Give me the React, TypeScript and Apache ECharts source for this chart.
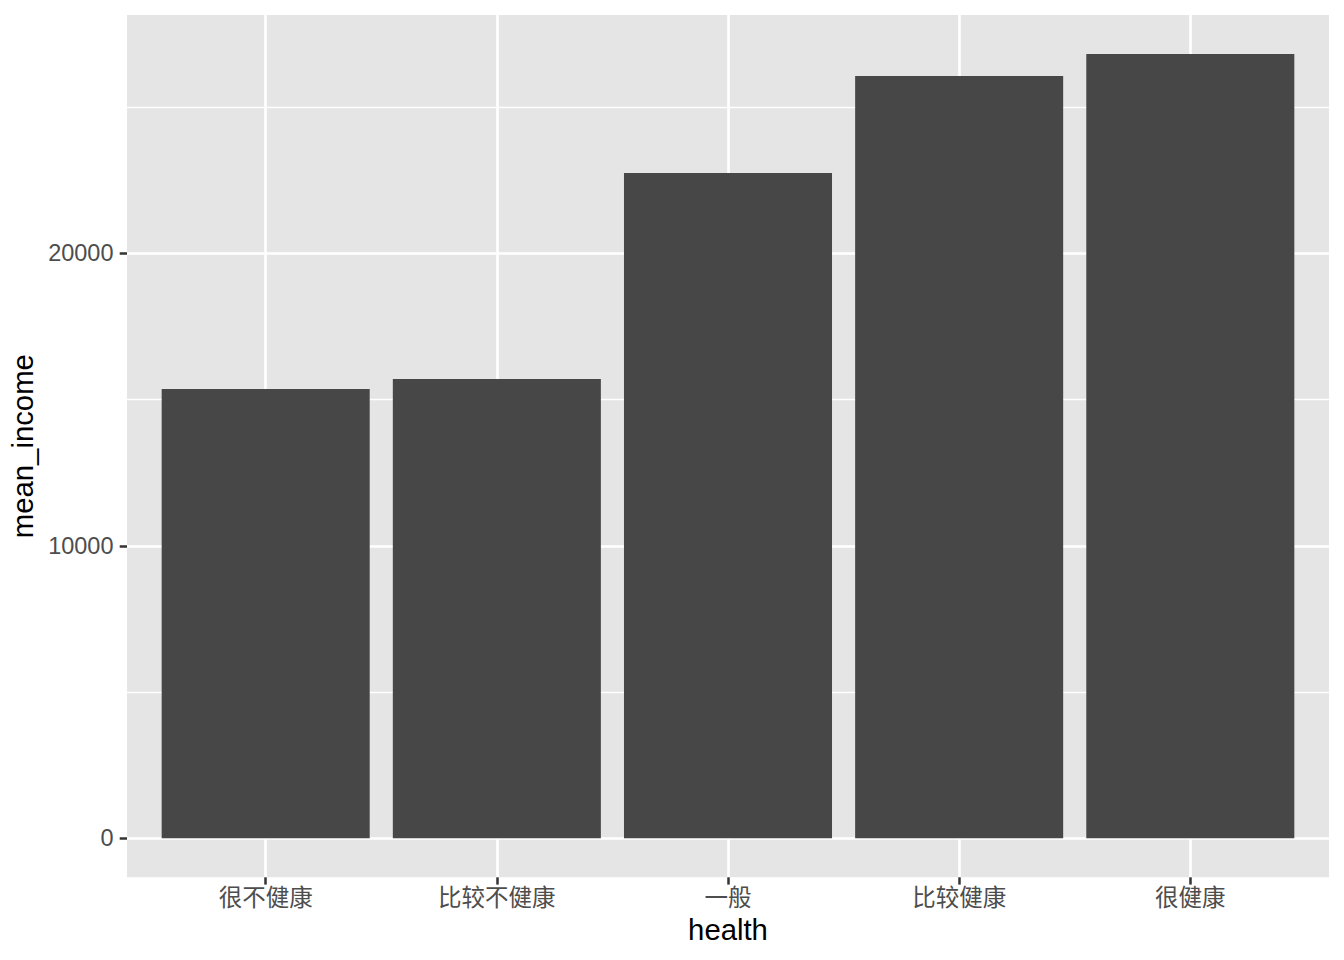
import React, { useEffect, useRef } from "react";
import * as echarts from "echarts";

const categories = ["很不健康", "比较不健康", "一般", "比较健康", "很健康"];
const meanIncome = [15361, 15703, 22745, 26061, 26813];
const yMajorTicks = [0, 10000, 20000];
const yMinorTicks = [5000, 15000, 25000];
const xPositions = [1, 2, 3, 4, 5];

const FONT = "'Liberation Sans', Arial, 'Noto Sans CJK SC', sans-serif";

export default function App() {
  const ref = useRef<HTMLDivElement>(null);
  useEffect(() => {
    if (!ref.current) return;
    const chart = echarts.init(ref.current, undefined, { renderer: "svg" });
    chart.setOption({
      animation: false,
      backgroundColor: "#FFFFFF",
      grid: {
        left: 127,
        top: 15,
        width: 1202,
        height: 862.3,
        show: true,
        backgroundColor: "#E5E5E5",
        borderWidth: 0,
        containLabel: false,
        outerBoundsMode: "none",
      },
      xAxis: {
        type: "value",
        min: 0.4,
        max: 5.6,
        name: "health",
        nameLocation: "middle",
        nameGap: 37,
        nameTextStyle: { fontFamily: FONT, fontSize: 29.3, color: "#000000" },
        axisLine: { show: false, onZero: false },
        axisTick: {
          show: true,
          length: 7.3,
          customValues: xPositions,
          lineStyle: { color: "#333333", width: 2.5 },
        },
        axisLabel: {
          customValues: xPositions,
          margin: 9,
          fontFamily: FONT,
          fontSize: 23.5,
          color: "#4D4D4D",
          formatter: (v: number) => categories[Math.round(v) - 1] ?? "",
        },
        splitLine: { show: true, lineStyle: { color: "#FFFFFF", width: 2.7 } },
      },
      yAxis: [
        {
          type: "value",
          min: -1333,
          max: 28147,
          position: "left",
          name: "mean_income",
          nameLocation: "middle",
          nameGap: 86,
          nameRotate: 90,
          nameTextStyle: { fontFamily: FONT, fontSize: 29.3, color: "#000000" },
          axisLine: { show: false, onZero: false },
          axisTick: {
            show: true,
            length: 7.3,
            customValues: yMajorTicks,
            lineStyle: { color: "#333333", width: 2.5 },
          },
          axisLabel: {
            customValues: yMajorTicks,
            margin: 13.5,
            fontFamily: FONT,
            fontSize: 23.5,
            color: "#4D4D4D",
            formatter: (v: number) => String(v),
          },
          splitLine: { show: true, lineStyle: { color: "#FFFFFF", width: 2.7 } },
        },
        {
          type: "value",
          min: -1333,
          max: 28147,
          position: "left",
          axisLine: { show: false, onZero: false },
          axisTick: { show: false, customValues: yMinorTicks },
          axisLabel: { show: false, customValues: yMinorTicks },
          splitLine: { show: true, lineStyle: { color: "#FFFFFF", width: 1.35 } },
        },
      ],
      series: [
        {
          type: "bar",
          xAxisIndex: 0,
          yAxisIndex: 0,
          barWidth: "90%",
          itemStyle: { color: "#474747" },
          data: xPositions.map((x, i) => [x, meanIncome[i]]),
        },
      ],
    });
    return () => chart.dispose();
  }, []);
  return (
    <div
      ref={ref}
      style={{ position: "fixed", left: 0, top: 0, width: 1344, height: 960 }}
    />
  );
}
